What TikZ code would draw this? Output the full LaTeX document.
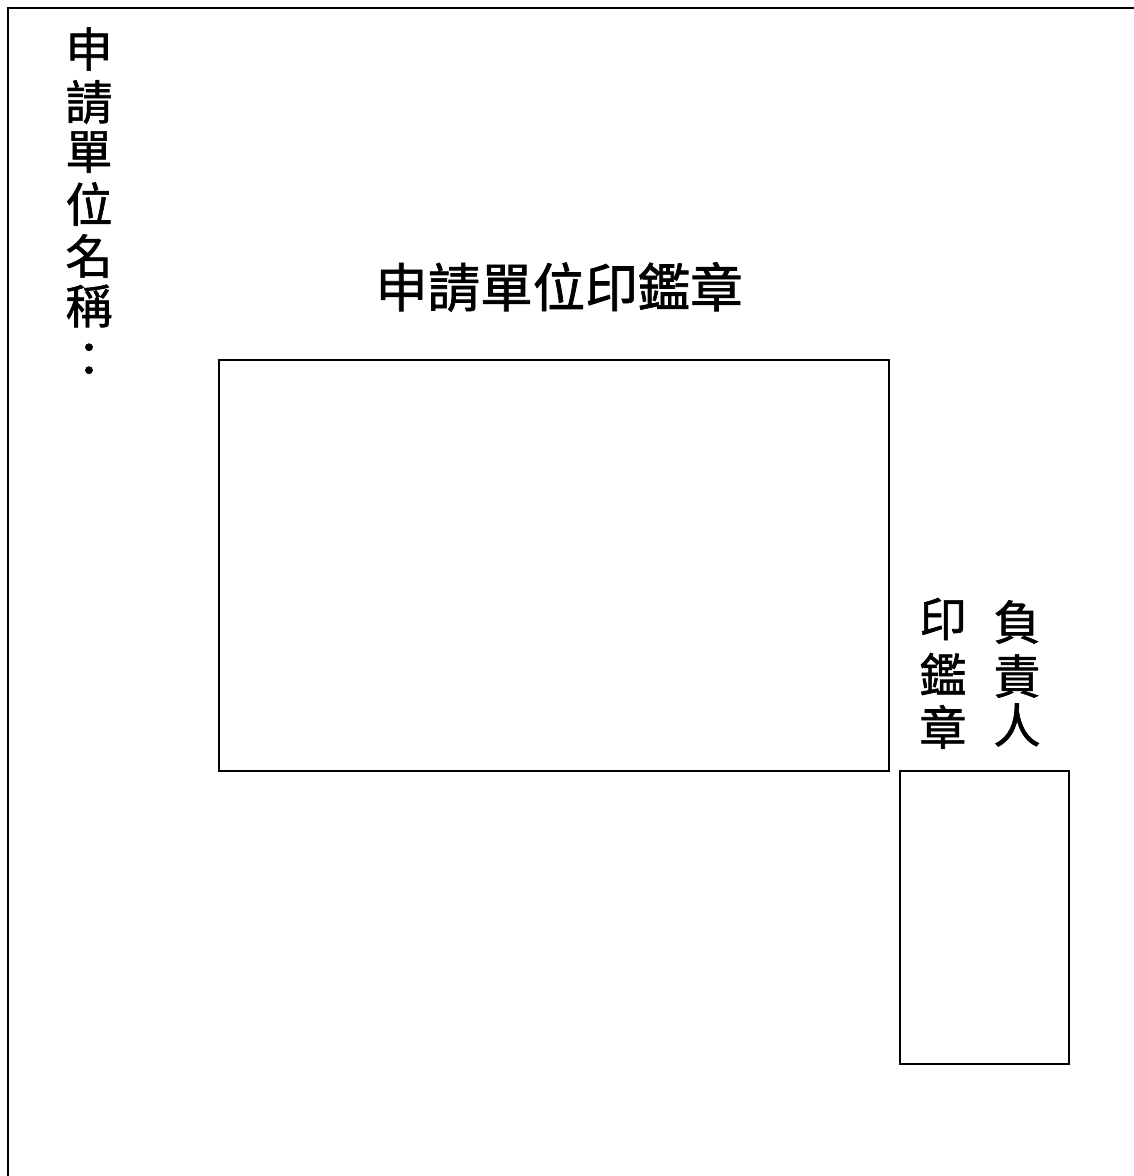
\documentclass[tikz,border=0pt]{standalone}
\usepackage{fontspec}
\newfontfamily\cjk{Noto Sans CJK TC}[FakeBold=1.3]
\tikzset{
  glyph/.style={inner sep=0pt, font=\cjk\fontsize{47}{50}\selectfont},
  title/.style={inner sep=0pt, font=\cjk\fontsize{52.5}{55}\selectfont},
  sealbox/.style={draw=black, line width=1.6pt}
}
\begin{document}
\begin{tikzpicture}[x=1pt,y=-1pt]
\useasboundingbox (0,0) rectangle (1134,1176);
\begin{scope}
\clip (0,0) rectangle (1134,1176);
\draw[line width=1.8pt] (8,8) rectangle (1150,1190);
\end{scope}
% left vertical label
\foreach \c/\y [count=\i] in {申/49,請/102,單/152,位/204,名/256,稱/306,：/360}
  \node[glyph] (L\i) at (89,\y) {\c};
% title
\node[title] (title) at (559,287) {申請單位印鑑章};
% big seal box
\node[sealbox, minimum width=670pt, minimum height=411pt, inner sep=0pt, anchor=north west] (bigbox) at (218,359) {};
% right vertical labels
\foreach \c/\y [count=\i] in {負/622,責/676,人/725}
  \node[glyph] (R\i) at (1017,\y) {\c};
\foreach \c/\y [count=\i] in {印/619,鑑/674,章/727}
  \node[glyph] (S\i) at (943,\y) {\c};
% small seal box
\node[sealbox, minimum width=169pt, minimum height=293pt, inner sep=0pt, anchor=north west] (smallbox) at (899,770) {};
\end{tikzpicture}
\end{document}
